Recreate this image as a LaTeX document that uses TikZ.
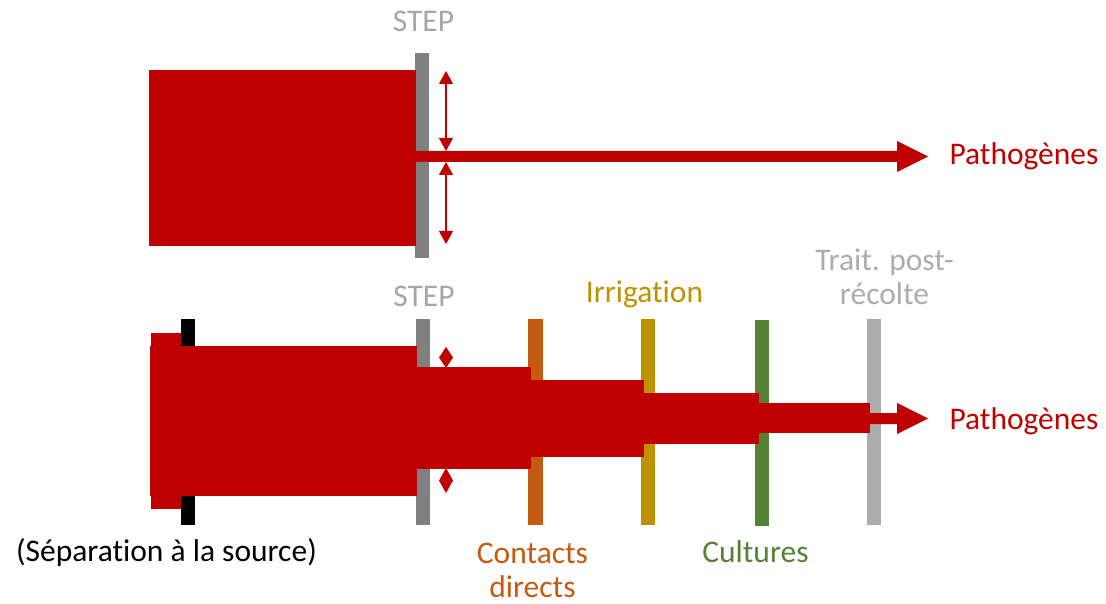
\documentclass[tikz,border=0pt]{standalone}
\usepackage{fontspec}
\setmainfont[Ligatures=NoCommon]{Carlito}
\usetikzlibrary{arrows.meta}
\definecolor{pred}{HTML}{C00000}
\definecolor{stepgray}{HTML}{808080}
\definecolor{steptext}{HTML}{A6A6A6}
\definecolor{corange}{HTML}{C55A11}
\definecolor{cgold}{HTML}{BF9000}
\definecolor{cgreen}{HTML}{548235}
\definecolor{clgray}{HTML}{AEABAB}
\tikzset{
  lbl/.style={inner sep=0pt, anchor=base, font=\fontsize{31.5}{34}\selectfont, align=center},
  flow/.style={fill=pred},
  dblarrow/.style={draw=pred, line width=1.2pt, {Triangle[length=13pt,width=14pt]}-{Triangle[length=13pt,width=14pt]}}
}
\begin{document}
\begin{tikzpicture}[x=1pt,y=-1pt]
\useasboundingbox (0,0) rectangle (1106,604);
% ---------- top ----------
\fill[stepgray] (415,53) rectangle (429,258);
\fill[flow] (149,70) rectangle (416,246);
\fill[flow] (415,151) -- (897,151) -- (897,141) -- (928,156.5) -- (897,172) -- (897,162) -- (415,162) -- cycle;
\coordinate (t1) at (446,71);
\coordinate (t2) at (446,151);
\coordinate (t3) at (446,162);
\coordinate (t4) at (446,244);
\draw[dblarrow] (t1) -- (t2);
\draw[dblarrow] (t3) -- (t4);
\node[lbl, text=steptext] (steptop) at (423.5,32) {STEP};
\node[lbl, text=pred] (pathtop) at (1024,165) {Pathogènes};
% ---------- bottom ----------
\fill[black] (181,319) rectangle (195,525);
\fill[stepgray] (416,319) rectangle (430,525);
\fill[corange] (528,319) rectangle (543,525);
\fill[cgold] (641,319) rectangle (655,525);
\fill[cgreen] (755,320) rectangle (769,526);
\fill[clgray] (867,319) rectangle (881,525);
\fill[flow] (151,333) rectangle (181,509);
\fill[flow] (150,346) rectangle (417,496);
\fill[flow] (416,367) rectangle (531,469);
\fill[flow] (530,380) rectangle (644,457);
\fill[flow] (643,393) rectangle (759,444);
\fill[flow] (758,403) rectangle (870,433);
\fill[flow] (869,413) -- (897,413) -- (897,403) -- (928,418.5) -- (897,434) -- (897,424) -- (869,424) -- cycle;
\fill[flow] (446,347) -- (453,357.5) -- (446,368) -- (439,357.5) -- cycle;
\fill[flow] (446,468) -- (453,480.5) -- (446,493) -- (439,480.5) -- cycle;
\node[lbl, text=steptext] (stepbot) at (424,306) {STEP};
\node[lbl, text=cgold] (irr) at (644.5,302) {Irrigation};
\node[lbl, text=clgray] (trait) at (884.5,304) {Trait. post-\\récolte};
\node[lbl, text=corange] (contacts) at (532.5,597) {Contacts\\directs};
\node[lbl, text=cgreen] (cult) at (755.5,562) {Cultures};
\node[lbl, text=black] (sep) at (166.5,561) {(Séparation à la source)};
\node[lbl, text=pred] (pathbot) at (1024,429) {Pathogènes};
\end{tikzpicture}
\end{document}
